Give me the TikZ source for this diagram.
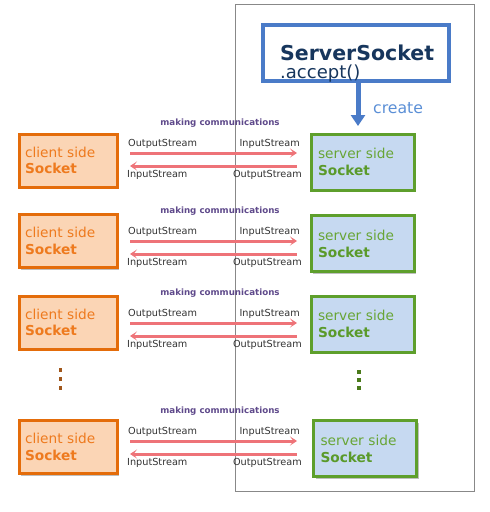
\documentclass[tikz,border=0pt]{standalone}
\usepackage{fontspec}
\setmainfont{DejaVu Sans}
\usetikzlibrary{arrows.meta,shadows,calc}
\definecolor{cborder}{HTML}{E46C0A}
\definecolor{cfill}{HTML}{FBD5B5}
\definecolor{ctext}{HTML}{EE7A1E}
\definecolor{sborder}{HTML}{5E9F2C}
\definecolor{sfill}{HTML}{C6D9F1}
\definecolor{stext}{HTML}{68A536}
\definecolor{sbold}{HTML}{5A9A2A}
\definecolor{ssborder}{HTML}{4A7BC8}
\definecolor{sstext}{HTML}{17365D}
\definecolor{createc}{HTML}{5B8FD6}
\definecolor{streamc}{HTML}{EE7378}
\definecolor{commc}{HTML}{5F4A8B}
\definecolor{framec}{HTML}{888888}
\definecolor{cdots}{HTML}{A0561A}
\definecolor{sdots}{HTML}{4A7A1A}
\tikzset{
  shad/.style={drop shadow={shadow xshift=2pt,shadow yshift=-2pt,opacity=0.25,fill=black}},
  clientbox/.style={shad,draw=cborder,fill=cfill,line width=3pt,minimum width=98pt,minimum height=53pt,
    text width=86pt,align=left,inner sep=0pt,
    font=\fontsize{13.7}{16.5}\selectfont,text=ctext},
  serverbox/.style={shad,draw=sborder,fill=sfill,line width=3pt,minimum width=103pt,minimum height=56pt,
    text width=89pt,align=left,inner sep=0pt,
    font=\fontsize{13.7}{17}\selectfont,text=stext},
  stream/.style={draw=streamc,line width=3pt},
  streamarrow/.style={stream,-{Stealth[length=7pt,width=9pt,inset=3.5pt,line width=0.8pt]}},
  lbl/.style={font=\fontsize{9.7}{11}\selectfont,text=black!80,inner sep=0pt},
  comm/.style={font=\bfseries\fontsize{8.7}{10}\selectfont,text=commc,inner sep=0pt},
  dotsq/.style={inner sep=0pt,minimum width=3.2pt,minimum height=4.5pt},
}
\begin{document}
\begin{tikzpicture}[x=1pt,y=-1pt]
\useasboundingbox (0,0) rectangle (490,512);
% server frame
\draw[framec,line width=1pt] (235,4) rectangle (474,491);
% ServerSocket
\node[shad,draw=ssborder,fill=white,line width=3.5pt,minimum width=186pt,minimum height=56pt] (ss) at (356,53) {};
\node[anchor=base west,inner sep=0pt,text=sstext,font=\bfseries\fontsize{20.5}{22}\selectfont] (sst) at (280,60.5) {ServerSocket};
\node[anchor=base west,inner sep=0pt,text=sstext,font=\fontsize{18}{19}\selectfont] (ssa) at (280,78) {.accept()};
\coordinate (createend) at (358,126);
\draw[ssborder,line width=5pt,-{Triangle[length=11pt,width=14pt]}] (ss.south -| createend) -- (createend);
\node[anchor=base west,inner sep=0pt,text=createc,font=\fontsize{15.7}{17}\selectfont] (create) at (373,113) {create};
% rows
\foreach \i/\cy/\sy/\ay/\sx in {1/160.5/162/153/362.5, 2/241/243.5/241/362.5, 3/322.5/324/323/362.5, 4/447/448.5/441/365}{
  \node[clientbox] (client\i) at (68,\cy) {client side\\\textbf{Socket}};
  \node[serverbox] (server\i) at (\sx,\sy) {server side\\\textbf{\color{sbold}Socket}};
  \coordinate (ra\i) at (130,\ay);
  \coordinate (rb\i) at (297,\ay);
  \coordinate (la\i) at (297,\ay+13);
  \coordinate (lb\i) at (130,\ay+13);
  \draw[streamarrow] (ra\i) -- (rb\i);
  \draw[streamarrow] (la\i) -- (lb\i);
  \node[comm] (comm\i) at (220,\ay-30) {making communications};
  \node[lbl,anchor=west] (os\i) at (128,\ay-9.5) {OutputStream};
  \node[lbl,anchor=east] (is\i) at (300,\ay-9.5) {InputStream};
  \node[lbl,anchor=west] (isb\i) at (127,\ay+22) {InputStream};
  \node[lbl,anchor=east] (osb\i) at (302,\ay+22) {OutputStream};
}
% dots
\foreach \y in {370,379,388}{
  \node[dotsq,fill=cdots] at (60.5,\y) {};
}
\foreach \y in {372,380,388}{
  \node[dotsq,fill=sdots] at (359,\y) {};
}
\end{tikzpicture}
\end{document}
